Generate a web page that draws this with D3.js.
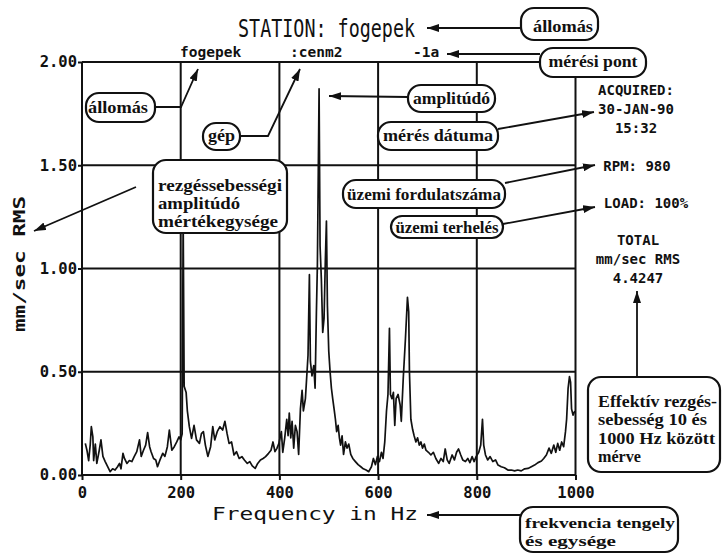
<!DOCTYPE html>
<html>
<head>
<meta charset="utf-8">
<script src="https://cdn.jsdelivr.net/npm/d3@7"></script>
<style>
  html, body { margin: 0; padding: 0; background: #fff; }
  svg { display: block; }
  .mono { font-family: "DejaVu Sans Mono", "Liberation Mono", monospace; fill: #111; }
  .note { font-family: "Liberation Serif", "DejaVu Serif", serif; font-weight: bold; fill: #111; }
</style>
</head>
<body>
<svg id="chart" width="727" height="554"></svg>
<script>
// Vibration velocity spectrum, frequency in Hz vs. mm/sec RMS
const freqHz = [
  6.7,10,13.5,16.8,18.9,22,23.6,27,30,35,38.4,42.4,47,52,57,62,67,72,76,79,
  83,86,91,96,101,106,111,116.5,120,124.6,129,133,137,140,145,149.5,153,158,163.6,168,
  173,177,182,187,192,196.6,200,203,205,207,211,213.5,217.5,222,227,232,238,242,246,250,
  255,260.6,265,269,274,279.5,285,289.6,294,298,303,308,313,318.5,324,329,335,340,345,351,
  356,361.6,367,372,378,383,387,391,395,399,404,406.8,410.8,414.9,417.6,420,423,425.7,429,432.4,
  435.8,439,442.6,446,448.6,452.7,456,458,460.8,462.8,466,469.6,472.3,475,477,478.8,480.4,482.4,485,487.8,
  490.5,493,495.3,497.3,500,502.7,505.4,508,510.8,513.5,516,519,521.6,524,527,530,533.8,537,540.5,544.6,
  548.7,554,559.5,565,570,575.7,581,586.5,590.5,594.6,598.6,602.7,606.8,610,613.5,617,620,623,625,628,
  631,633.8,636.5,640.5,644.6,647,651,655.4,659.5,662,663.5,666.4,670,673,676.6,680,683.4,686.8,690,693.6,
  697,702,707,712,717,722.7,727.5,732,736,740,744,750,754.6,759,763,767.5,771.5,777,781.7,786,
  790.5,794.6,798.6,804,808,811.5,814,817.6,822,827,832.5,838,843,849.5,856,863,870,876.6,883,890,
  897,903.7,910.5,917,924,931,935.6,941,946.4,951,956,960,964,968,972,976,979.7,982,985,987.8,
  990,992,995,998.6
];
const ampRms = [
  .153,.12,.07,.15,.234,.185,.07,.15,.056,.12,.17,.09,.065,.04,.016,.03,.024,.04,.056,.03,
  .105,.08,.056,.07,.065,.09,.113,.17,.09,.12,.145,.205,.137,.113,.08,.073,.04,.073,.105,.09,
  .137,.218,.12,.137,.16,.185,.17,.2,1.25,.43,.40,.31,.234,.177,.24,.17,.153,.2,.21,.145,
  .09,.137,.234,.17,.21,.234,.218,.26,.2,.153,.16,.097,.113,.08,.089,.073,.056,.065,.044,.032,
  .056,.073,.08,.089,.105,.12,.16,.113,.129,.153,.21,.11,.18,.27,.19,.30,.18,.26,.13,.24,
  .21,.10,.32,.41,.31,.37,.50,.58,.97,.55,.48,.53,.42,.79,1.02,1.47,1.87,1.11,.95,.69,
  .76,1.03,1.23,.82,.60,.50,.42,.37,.32,.27,.21,.24,.18,.145,.19,.10,.16,.13,.15,.10,
  .08,.065,.05,.04,.03,.024,.016,.04,.08,.05,.09,.065,.11,.08,.16,.31,.39,.71,.39,.37,
  .40,.24,.37,.39,.34,.26,.47,.66,.86,.79,.50,.27,.22,.19,.16,.18,.145,.16,.13,.15,
  .12,.11,.097,.11,.08,.056,.08,.065,.126,.073,.056,.097,.073,.11,.126,.097,.073,.065,.08,.06,
  .089,.065,.089,.11,.145,.27,.145,.097,.073,.089,.065,.073,.048,.04,.035,.024,.024,.02,.024,.02,
  .03,.032,.04,.048,.06,.068,.08,.097,.13,.105,.145,.11,.153,.12,.16,.137,.21,.27,.42,.476,
  .45,.32,.29,.31
];

const xTicks = [0, 200, 400, 600, 800, 1000];
const yTicks = [0, 0.5, 1.0, 1.5, 2.0];

const titleText = "STATION: fogepek";
const headerFields = ["fogepek", ":cenm2", "-1a"];
const acquiredLines = ["ACQUIRED:", "30-JAN-90", "15:32"];
const rpmText = "RPM: 980";
const loadText = "LOAD: 100%";
const totalLines = ["TOTAL", "mm/sec RMS", "4.4247"];
const xTitle = "Frequency in Hz";
const yTitle = "mm/sec RMS";

const svg = d3.select("#chart");

const x = d3.scaleLinear().domain([0, 1000]).range([82, 575.5]);
const y = d3.scaleLinear().domain([0, 2]).range([475, 62]);

// grid
const grid = svg.append("g").attr("stroke", "#111").attr("stroke-width", 2);
grid.selectAll("line.v").data(xTicks).join("line")
  .attr("x1", d => x(d)).attr("x2", d => x(d))
  .attr("y1", y(2)).attr("y2", y(0));
grid.selectAll("line.h").data(yTicks).join("line")
  .attr("y1", d => y(d)).attr("y2", d => y(d))
  .attr("x1", x(0)).attr("x2", x(1000));

// axes
const yAxis = svg.append("g").attr("transform", `translate(${x(0)},0)`)
  .call(d3.axisLeft(y).tickValues(yTicks).tickFormat(d3.format(".2f")).tickSize(4).tickPadding(1));
const xAxis = svg.append("g").attr("transform", `translate(0,${y(0)})`)
  .call(d3.axisBottom(x).tickValues(xTicks).tickFormat(d3.format("d")).tickSize(5).tickPadding(7));
[yAxis, xAxis].forEach(g => {
  g.select(".domain").remove();
  g.selectAll(".tick line").attr("stroke", "#111").attr("stroke-width", 2);
  g.selectAll(".tick text")
    .attr("class", "mono")
    .style("font-size", "15.5px").style("font-weight", "bold").attr("fill", "#111");
});

// spectrum trace
const pts = freqHz.map((f, i) => [f, ampRms[i]]);
svg.append("path")
  .datum(pts)
  .attr("fill", "none")
  .attr("stroke", "#111")
  .attr("stroke-width", 1.7)
  .attr("stroke-linejoin", "round")
  .attr("d", d3.line().x(d => x(d[0])).y(d => y(d[1])));

// title and header fields
svg.append("text").attr("class", "mono")
  .attr("x", 238).attr("y", 37)
  .attr("textLength", 177).attr("lengthAdjust", "spacingAndGlyphs")
  .style("font-size", "24px").text(titleText);

const headerX = [180, 290, 413];
svg.selectAll("text.hdr").data(headerFields).join("text")
  .attr("class", "mono hdr")
  .attr("x", (d, i) => headerX[i]).attr("y", 57)
  .style("font-size", "14.5px").style("font-weight", "bold")
  .text(d => d);

// right-hand info block
function infoLines(lines, cx, y0, step) {
  svg.selectAll(null).data(lines).join("text")
    .attr("class", "mono")
    .attr("x", cx).attr("y", (d, i) => y0 + i * step)
    .attr("text-anchor", "middle")
    .style("font-size", "14px").style("font-weight", "bold")
    .text(d => d);
}
infoLines(acquiredLines, 636, 95, 19);
infoLines([rpmText], 637, 171, 0);
infoLines([loadText], 646, 208, 0);
infoLines(totalLines, 638, 245, 19);

// axis titles
svg.append("text").attr("class", "mono")
  .attr("x", 212).attr("y", 520)
  .attr("textLength", 206).attr("lengthAdjust", "spacingAndGlyphs")
  .style("font-size", "18px").text(xTitle);

svg.append("text").attr("class", "mono")
  .attr("transform", "translate(25,264) rotate(-90)")
  .attr("text-anchor", "middle")
  .attr("textLength", 136).attr("lengthAdjust", "spacingAndGlyphs")
  .style("font-size", "16px").style("font-weight", "bold")
  .text(yTitle);

// callout boxes
const notes = [
  { box: [521, 8, 77, 32], lines: [["állomás", 563, 32, 60]] },
  { box: [540, 48, 106, 29], lines: [["mérési pont", 593, 67, 89]] },
  { box: [86, 93, 69, 29], lines: [["állomás", 118, 113, 60]] },
  { box: [203, 123, 37, 27], lines: [["gép", 221.5, 141, 27]] },
  { box: [408, 85, 87, 27], lines: [["amplitúdó", 451.5, 104, 77]] },
  { box: [378, 122, 120, 28], lines: [["mérés dátuma", 438, 141, 110]] },
  { box: [153, 160, 134, 73], align: "start", lines: [
      ["rezgéssebességi", 158, 191, 124],
      ["amplitúdó", 158, 209, 82],
      ["mértékegysége", 158, 227, 120]] },
  { box: [343, 180, 162, 28], lines: [["üzemi fordulatszáma", 424, 200, 154]] },
  { box: [391, 216, 112, 22], lines: [["üzemi terhelés", 447, 233, 103]] },
  { box: [588, 377, 132, 95], align: "start", size: 16, lines: [
      ["Effektív rezgés-", 598, 407, 119],
      ["sebesség 10 és", 598, 425, 109],
      ["1000 Hz között", 598, 444, 117],
      ["mérve", 598, 462, 43]] },
  { box: [520, 507, 158, 45], align: "start", size: 15, lines: [
      ["frekvencia tengely", 525, 528, 150],
      ["és egysége", 525, 546, 91]] }
];

const noteG = svg.append("g");
notes.forEach(n => {
  noteG.append("rect")
    .attr("x", n.box[0]).attr("y", n.box[1])
    .attr("width", n.box[2]).attr("height", n.box[3])
    .attr("rx", Math.min(13, n.box[3] / 2)).attr("ry", Math.min(13, n.box[3] / 2))
    .attr("fill", "#fff").attr("stroke", "#111").attr("stroke-width", 2.2);
  n.lines.forEach(([t, tx, ty, w]) => {
    noteG.append("text").attr("class", "note")
      .attr("x", tx).attr("y", ty)
      .attr("text-anchor", n.align === "start" ? "start" : "middle")
      .attr("textLength", w).attr("lengthAdjust", "spacingAndGlyphs")
      .style("font-size", (n.size || 17) + "px")
      .text(t);
  });
});

// leader arrows
const defs = svg.append("defs");
defs.append("marker")
  .attr("id", "head").attr("viewBox", "0 0 12 8")
  .attr("refX", 12).attr("refY", 4)
  .attr("markerWidth", 12).attr("markerHeight", 8)
  .attr("markerUnits", "userSpaceOnUse")
  .attr("orient", "auto")
  .append("path").attr("d", "M0,0 L12,4 L0,8 Z").attr("fill", "#111");

const leaders = [
  [[520, 28], [427, 28]],
  [[540, 54], [447, 54]],
  [[155, 107], [181, 107], [198, 69]],
  [[240, 136], [268, 136], [300, 69]],
  [[408, 97], [329, 96]],
  [[498, 129], [594, 112]],
  [[136, 187], [34, 231]],
  [[505, 183], [595, 165]],
  [[503, 224], [595, 207]],
  [[637, 377], [637, 291]],
  [[520, 515], [427, 515]]
];
svg.append("g").selectAll("path").data(leaders).join("path")
  .attr("d", d => d3.line()(d))
  .attr("fill", "none").attr("stroke", "#111").attr("stroke-width", 1.8)
  .attr("marker-end", "url(#head)");
</script>
</body>
</html>
